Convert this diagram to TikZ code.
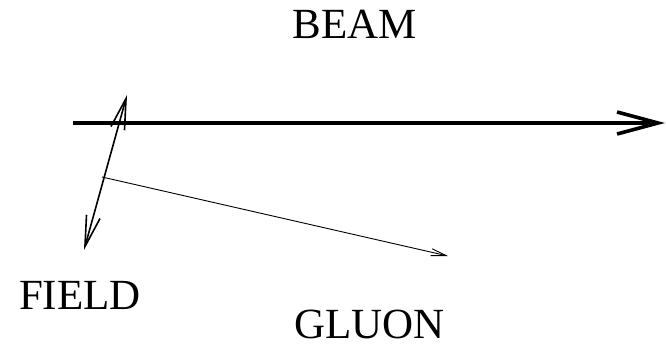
\documentclass[tikz,border=0pt]{standalone}
\usepackage{fontspec}
\setmainfont{Liberation Serif}
\usetikzlibrary{arrows.meta}

\begin{document}
\begin{tikzpicture}[x=1pt,y=-1pt,
  every node/.style={font=\fontsize{43}{48}\selectfont,inner sep=0pt},
  beamline/.style={line width=3.6pt,-{Straight Barb[length=41pt,width=22pt,line width=3.6pt]}},
  fieldline/.style={line width=1.6pt,{Straight Barb[length=31pt,width=14pt]}-{Straight Barb[length=31pt,width=14pt]}},
  gluonline/.style={line width=0.9pt,-{Straight Barb[length=15pt,width=7pt]}}]
\useasboundingbox (0,0) rectangle (666,348);
% beam
\coordinate (b0) at (73,123);
\coordinate (b1) at (665,123);
\draw[beamline] (b0) -- (b1);
% field
\coordinate (f0) at (127,95);
\coordinate (f1) at (84,250);
\draw[fieldline] (f0) -- (f1);
% gluon
\coordinate (g0) at (102,177);
\coordinate (g1) at (448,256);
\draw[gluonline] (g0) -- (g1);
% labels
\node[anchor=base] (beam) at (355,38) {BEAM};
\node[anchor=base] (field) at (80,309) {FIELD};
\node[anchor=base west] (gluon) at (294,338) {GLUON};
\end{tikzpicture}
\end{document}
